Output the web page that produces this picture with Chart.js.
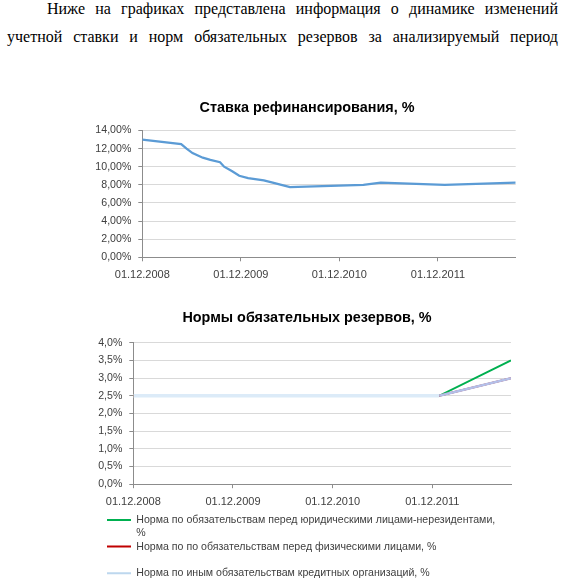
<!DOCTYPE html>
<html lang="ru">
<head>
<meta charset="utf-8">
<title>Ставка рефинансирования и нормы обязательных резервов</title>
<script src="https://cdn.jsdelivr.net/npm/chart.js@4.4.1/dist/chart.umd.min.js"></script>
<style>
  html, body { margin: 0; padding: 0; background: #fff; overflow: hidden; }
  body { position: relative; width: 573px; height: 581px; }
  #intro {
    position: absolute; left: 7px; top: -5px; width: 551px; margin: 0;
    font-family: "Liberation Serif", "Times New Roman", serif; font-size: 16px; line-height: 28px;
    text-indent: 40px; text-align: justify; text-align-last: justify; color: #000;
  }
  canvas { position: absolute; left: 0; }
  #rateChart { top: 88px; }
  #reserveChart { top: 296px; }
</style>
</head>
<body>
<p id="intro">Ниже на графиках представлена информация о динамике изменений<br>учетной ставки и норм обязательных резервов за анализируемый период</p>
<canvas id="rateChart" width="573" height="200" style="width:573px;height:200px"></canvas>
<canvas id="reserveChart" width="573" height="302" style="width:573px;height:302px"></canvas>
<script>
// ---------- data ----------
const rateTitle = 'Ставка рефинансирования, %';
const rateDates = ['01.12.2008','24.04.2009','14.05.2009','05.06.2009','13.07.2009','10.08.2009','15.09.2009',
  '30.09.2009','30.10.2009','25.11.2009','28.12.2009','24.02.2010','29.03.2010','30.04.2010','01.06.2010',
  '28.02.2011','03.05.2011','26.12.2011','14.09.2012'];
const rateValues = [13, 12.5, 12, 11.5, 11, 10.75, 10.5, 10, 9.5, 9, 8.75, 8.5, 8.25, 8, 7.75, 8, 8.25, 8, 8.25];

const reserveTitle = 'Нормы обязательных резервов, %';
const reserveDates = ['01.12.2008', '26.12.2011', '14.09.2012'];
const nonResidentValues = [2.5, 2.5, 3.5];
const individualValues = [2.5, 2.5, 3.0];
const otherValues = [2.5, 2.5, 3.0];
const reserveLabels = [
  ['Норма по обязательствам перед юридическими лицами-нерезидентами,', '%'],
  'Норма по по обязательствам перед физическими лицами, %',
  'Норма по иным обязательствам кредитных организаций, %'
];

const xTickLabels = ['01.12.2008', '01.12.2009', '01.12.2010', '01.12.2011'];
const rateYTickLabels = ['0,00%','2,00%','4,00%','6,00%','8,00%','10,00%','12,00%','14,00%'];
const reserveYTickLabels = ['0,0%','0,5%','1,0%','1,5%','2,0%','2,5%','3,0%','3,5%','4,0%'];

// ---------- helpers ----------
const ORIGIN = Date.UTC(2008, 11, 1);
function dayOffset(s) {
  const [d, m, y] = s.split('.').map(Number);
  return (Date.UTC(y, m - 1, d) - ORIGIN) / 86400000;
}
function points(dates, values) {
  return dates.map((d, i) => ({ x: dayOffset(d), y: values[i] }));
}

Chart.defaults.font.family = '"Liberation Sans", Arial, sans-serif';
Chart.defaults.font.size = 11;
Chart.defaults.color = '#404040';
Chart.defaults.animation = false;

const AXIS = '#8c8c8c';
const GRID = '#d9d9d9';

// moves the title horizontally / the legend vertically after layout
const boxShift = {
  id: 'boxShift',
  afterLayout(chart, args, opts) {
    const t = chart.titleBlock, l = chart.legend;
    if (t && opts.titleDx) { t.left += opts.titleDx; t.right += opts.titleDx; }
    if (l && opts.legendDy) { l.top += opts.legendDy; l.bottom += opts.legendDy; }
  }
};

function xScale(maxDate, height) {
  return {
    type: 'linear',
    min: dayOffset(xTickLabels[0]),
    max: dayOffset(maxDate),
    afterBuildTicks: s => { s.ticks = xTickLabels.map(l => ({ value: dayOffset(l) })); },
    afterFit: s => { s.height = height; },
    ticks: { callback: (v, i) => xTickLabels[i], padding: 7, maxRotation: 0, autoSkip: false, color: '#404040' },
    grid: { drawOnChartArea: false, drawTicks: true, tickLength: 4, tickColor: AXIS, color: AXIS },
    border: { color: AXIS, width: 1 }
  };
}
function yScale(max, step, labels, width) {
  return {
    position: 'left',
    min: 0, max: max,
    ticks: { stepSize: step, callback: (v, i) => labels[i], padding: 7, color: '#404040', font: { size: 10.6 } },
    afterFit: s => { s.width = width; },
    grid: { color: GRID, tickColor: AXIS, tickLength: 4 },
    border: { color: AXIS, width: 1 }
  };
}
function spacer(width) {
  return {
    position: 'right', display: true, min: 0, max: 1,
    afterFit: s => { s.width = width; },
    ticks: { display: false },
    grid: { display: false, drawTicks: false },
    border: { display: false }
  };
}
const isFlat = c => c.p0.parsed.y === c.p1.parsed.y;

// ---------- chart 1 ----------
new Chart(document.getElementById('rateChart'), {
  type: 'line',
  data: {
    datasets: [{
      label: rateTitle,
      data: points(rateDates, rateValues),
      borderColor: '#5b9bd5',
      backgroundColor: '#5b9bd5',
      borderWidth: 2.25,
      pointRadius: 0,
      tension: 0,
      yAxisID: 'y'
    }]
  },
  options: {
    responsive: false,
    layout: { padding: { left: 41, right: 0, top: 0, bottom: 0 } },
    plugins: {
      legend: { display: false },
      tooltip: { enabled: false },
      title: {
        display: true, text: rateTitle, color: '#000',
        font: { size: 14.4, weight: 'bold' },
        padding: { top: 11.1, bottom: 14.1 }
      }
    },
    scales: {
      x: xScale(rateDates[rateDates.length - 1], 30.7),
      y: yScale(14, 2, rateYTickLabels, 101.3),
      yRight: spacer(57.3)
    }
  }
});

// ---------- chart 2 ----------
new Chart(document.getElementById('reserveChart'), {
  type: 'line',
  data: {
    datasets: [
      { label: reserveLabels[0], data: points(reserveDates, nonResidentValues), yAxisID: 'y',
        borderColor: '#00b050', backgroundColor: '#00b050', borderWidth: 2, pointRadius: 0, order: 2 },
      { label: reserveLabels[1], data: points(reserveDates, individualValues), yAxisID: 'y',
        borderColor: '#c00000', backgroundColor: '#c00000', borderWidth: 2, pointRadius: 0, order: 1 },
      { label: reserveLabels[2], data: points(reserveDates, otherValues), yAxisID: 'y',
        borderColor: '#bdd7ee', backgroundColor: '#bdd7ee', borderWidth: 2, pointRadius: 0, order: 0,
        segment: {
          borderColor: c => isFlat(c) ? '#dcebf8' : '#b3bfe8',
          borderWidth: c => isFlat(c) ? 3.5 : 2.5
        } }
    ]
  },
  options: {
    responsive: false,
    layout: { padding: { left: 91, right: 0, top: 0, bottom: 0 } },
    plugins: {
      tooltip: { enabled: false },
      boxShift: { titleDx: -25, legendDy: -9.5 },
      title: {
        display: true, text: reserveTitle, color: '#000',
        font: { size: 14.4, weight: 'bold' },
        padding: { top: 13.6, bottom: 15.9 }
      },
      legend: {
        position: 'bottom',
        align: 'start',
        labels: {
          usePointStyle: true,
          pointStyle: 'line',
          pointStyleWidth: 24,
          padding: 16,
          color: '#404040',
          font: { size: 10.6 },
          sort: (a, b) => a.datasetIndex - b.datasetIndex
        }
      }
    },
    scales: {
      x: xScale(reserveDates[reserveDates.length - 1], 24),
      y: yScale(4, 0.5, reserveYTickLabels, 42.3),
      yRight: spacer(62)
    }
  },
  plugins: [boxShift]
});
</script>
</body>
</html>
